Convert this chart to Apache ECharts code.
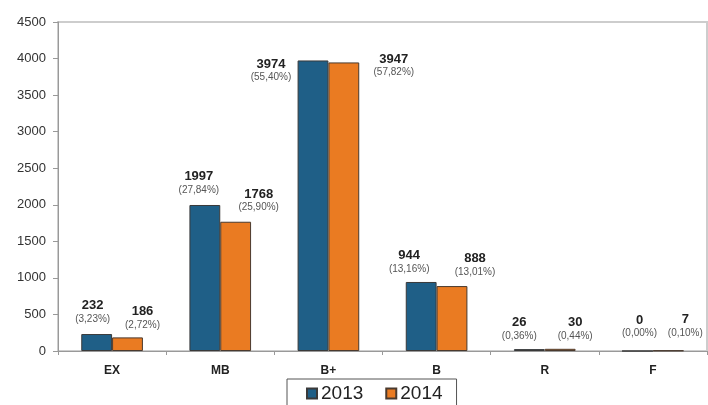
<!DOCTYPE html>
<html>
<head>
<meta charset="utf-8">
<script src="https://cdn.jsdelivr.net/npm/echarts@6/dist/echarts.min.js"></script>
<style>
  html, body { margin: 0; padding: 0; background: #fff; }
  #chart { width: 708px; height: 405px; }
</style>
</head>
<body>
<div id="chart"></div>
<script>
const categories = ["EX", "MB", "B+", "B", "R", "F"];
const values2013 = [232, 1997, 3974, 944, 26, 0];
const values2014 = [186, 1768, 3947, 888, 30, 7];
const pct2013 = ["3,23%", "27,84%", "55,40%", "13,16%", "0,36%", "0,00%"];
const pct2014 = ["2,72%", "25,90%", "57,82%", "13,01%", "0,44%", "0,10%"];
const yTicks = [0, 500, 1000, 1500, 2000, 2500, 3000, 3500, 4000, 4500];

// label nudges (layout only), as in the original the labels sit beside the bars
const nudge2013 = [[-4, -4], [-6, -4], [-42, 28], [-12, -2], [-10, -2], [2, -6]];
const nudge2014 = [[15, -1], [23, -3], [50, 21], [23, -3], [15, -2], [17, -6]];

const chart = echarts.init(document.getElementById("chart"));

const makeData = (vals, pcts, nudges) =>
  vals.map((v, i) => ({
    value: v,
    label: { offset: nudges[i], formatter: "{v|" + v + "}\n{p|(" + pcts[i] + ")}" }
  }));

const labelStyle = {
  show: true,
  position: "top",
  distance: 5,
  align: "center",
  rich: {
    v: { fontFamily: "Liberation Sans", fontSize: 13, fontWeight: "bold", color: "#222", lineHeight: 15, align: "center" },
    p: { fontFamily: "Liberation Sans", fontSize: 10, color: "#555", lineHeight: 12, align: "center" }
  }
};

chart.setOption({
  animation: false,
  color: ["#1f5f87", "#ea7b22"],
  grid: {
    left: 58, right: 1, top: 22, bottom: 54,
    show: true, borderColor: "#cdcdcd", borderWidth: 2
  },
  legend: {
    left: 287, top: 379,
    padding: [5, 14, 14, 19],
    itemWidth: 10, itemHeight: 10, itemGap: 22,
    icon: "rect",
    borderColor: "#555", borderWidth: 1,
    textStyle: { fontFamily: "Liberation Sans", fontSize: 19, color: "#222", padding: [0, 0, 0, -1] },
    data: ["2013", "2014"]
  },
  xAxis: {
    type: "category",
    data: categories,
    axisLine: { lineStyle: { color: "#999", width: 1 } },
    axisTick: { show: true, length: 4, lineStyle: { color: "#999" } },
    axisLabel: { fontFamily: "Liberation Sans", fontSize: 12, fontWeight: "bold", color: "#222", margin: 14 }
  },
  yAxis: {
    type: "value",
    min: 0, max: yTicks[yTicks.length - 1], interval: yTicks[1] - yTicks[0],
    axisLine: { show: true, lineStyle: { color: "#999" } },
    axisTick: { show: true, length: 5, lineStyle: { color: "#999" } },
    splitLine: { show: false },
    axisLabel: { fontFamily: "Liberation Sans", fontSize: 13, color: "#333", margin: 12, formatter: (v) => String(v) }
  },
  series: [
    {
      name: "2013", type: "bar",
      barGap: "0%", barCategoryGap: "43%",
      itemStyle: { borderColor: "#3a3a3a", borderWidth: 1 },
      label: labelStyle,
      data: makeData(values2013, pct2013, nudge2013)
    },
    {
      name: "2014", type: "bar",
      itemStyle: { borderColor: "#4a3a2e", borderWidth: 1 },
      label: labelStyle,
      data: makeData(values2014, pct2014, nudge2014)
    }
  ]
});
</script>
</body>
</html>
